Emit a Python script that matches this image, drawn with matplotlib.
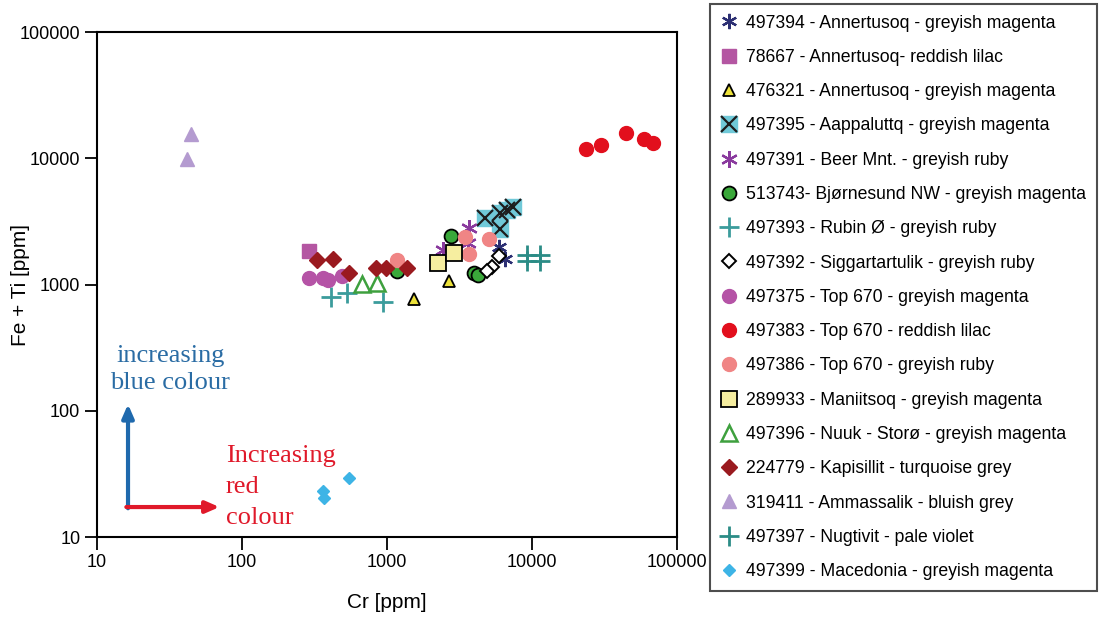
import matplotlib
matplotlib.use("Agg")
import matplotlib.pyplot as plt
from matplotlib.ticker import FixedLocator, FixedFormatter, NullLocator

plt.rcParams["font.family"] = ["Liberation Sans", "DejaVu Sans"]

# Cr [ppm] and Fe + Ti [ppm] per sample
cr_497394 = [5920, 6510]
feti_497394 = [1980, 1590]
cr_78667 = [290]
feti_78667 = [1840]
cr_476321 = [1535, 2680]
feti_476321 = [767, 1066]
cr_497395 = [4740, 6020, 6730, 7400, 6020]
feti_497395 = [3365, 3685, 3890, 4110, 2752]
cr_497391 = [2433, 3680, 3620]
feti_497391 = [1876, 2803, 2133]
cr_513743 = [1172, 2763, 3981, 4244]
feti_513743 = [1279, 2421, 1233, 1189]
cr_497393 = [411, 530, 938]
feti_497393 = [796, 857, 727]
cr_497392 = [5920, 5300, 4893]
feti_497392 = [1683, 1376, 1279]
cr_497375 = [290, 362, 392, 489]
feti_497375 = [1127, 1127, 1086, 1167]
cr_497383 = [23560, 29920, 44500, 59200, 68300]
feti_497383 = [11840, 12730, 15850, 14200, 13210]
cr_497386 = [1172, 3450, 5050, 3680]
feti_497386 = [1564, 2378, 2293, 1745]
cr_289933 = [2248, 2897]
feti_289933 = [1480, 1778]
cr_497396 = [673, 853]
feti_497396 = [1009, 1028]
cr_224779 = [329, 424, 547, 840, 984, 1374]
feti_224779 = [1564, 1592, 1233, 1352, 1352, 1352]
cr_319411 = [44.5, 41.8]
feti_319411 = [15560, 9860]
cr_497397 = [9240, 9240, 11350, 11350]
feti_497397 = [1713, 1535, 1713, 1535]
cr_497399 = [547, 362, 368]
feti_497399 = [29.3, 23.1, 20.4]

labels = [
    "497394 - Annertusoq - greyish magenta",
    "78667 - Annertusoq- reddish lilac",
    "476321 - Annertusoq - greyish magenta",
    "497395 - Aappaluttq - greyish magenta",
    "497391 - Beer Mnt. - greyish ruby",
    "513743- Bjørnesund NW - greyish magenta",
    "497393 - Rubin Ø - greyish ruby",
    "497392 - Siggartartulik - greyish ruby",
    "497375 - Top 670 - greyish magenta",
    "497383 - Top 670 - reddish lilac",
    "497386 - Top 670 - greyish ruby",
    "289933 - Maniitsoq - greyish magenta",
    "497396 - Nuuk - Storø - greyish magenta",
    "224779 - Kapisillit - turquoise grey",
    "319411 - Ammassalik - bluish grey",
    "497397 - Nugtivit - pale violet",
    "497399 - Macedonia - greyish magenta",
]

asterisk = (6, 2, 0)

fig = plt.figure(figsize=(11.04, 6.18), dpi=100)
ax = fig.add_axes([0.0879, 0.131, 0.5254, 0.8172])
ax.set_xscale("log")
ax.set_yscale("log")
ax.set_xlim(10, 100000)
ax.set_ylim(10, 100000)

h = []
h.append(ax.plot(cr_497394, feti_497394, ls="none", marker=asterisk, ms=11, mew=1.6, color="#2c2f73")[0])
h.append(ax.plot(cr_78667, feti_78667, ls="none", marker="s", ms=10, color="#b456a2")[0])
h.append(ax.plot(cr_476321, feti_476321, ls="none", marker="^", ms=9, mfc="#ede23a", mec="black", mew=1.3)[0])
sq = ax.plot(cr_497395, feti_497395, ls="none", marker="s", ms=12, color="#70c9d8")[0]
xx = ax.plot(cr_497395, feti_497395, ls="none", marker="x", ms=12, mew=1.6, color="#1d1d1d")[0]
h.append((sq, xx))
h.append(ax.plot(cr_497391, feti_497391, ls="none", marker=asterisk, ms=12, mew=1.6, color="#8a3a9e")[0])
h.append(ax.plot(cr_513743, feti_513743, ls="none", marker="o", ms=10, mfc="#3aa83a", mec="black", mew=1.3)[0])
h.append(ax.plot(cr_497393, feti_497393, ls="none", marker="+", ms=14, mew=2, color="#3b9c9c")[0])
h.append(ax.plot(cr_497392, feti_497392, ls="none", marker="D", ms=7, mfc="white", mec="black", mew=1.4)[0])
h.append(ax.plot(cr_497375, feti_497375, ls="none", marker="o", ms=10, color="#b553a6")[0])
h.append(ax.plot(cr_497383, feti_497383, ls="none", marker="o", ms=10, color="#e20f1d")[0])
h.append(ax.plot(cr_497386, feti_497386, ls="none", marker="o", ms=10, color="#f08585")[0])
h.append(ax.plot(cr_289933, feti_289933, ls="none", marker="s", ms=11, mfc="#f6eea0", mec="black", mew=1.3)[0])
h.append(ax.plot(cr_497396, feti_497396, ls="none", marker="^", ms=12, mfc="white", mec="#3ea03e", mew=1.8)[0])
h.append(ax.plot(cr_224779, feti_224779, ls="none", marker="D", ms=8, color="#9a1a1f")[0])
h.append(ax.plot(cr_319411, feti_319411, ls="none", marker="^", ms=10, color="#b49bd0")[0])
h.append(ax.plot(cr_497397, feti_497397, ls="none", marker="+", ms=14, mew=2, color="#2b8c86")[0])
h.append(ax.plot(cr_497399, feti_497399, ls="none", marker="D", ms=6.5, color="#3db4e6")[0])

ticks = [10, 100, 1000, 10000, 100000]
ticklabels = ["10", "100", "1000", "10000", "100000"]
for axis in (ax.xaxis, ax.yaxis):
    axis.set_major_locator(FixedLocator(ticks))
    axis.set_major_formatter(FixedFormatter(ticklabels))
    axis.set_minor_locator(NullLocator())
ax.tick_params(direction="out", length=9, width=1.3, labelsize=13, pad=3)
for s in ax.spines.values():
    s.set_linewidth(1.5)

ax.set_xlabel("Cr [ppm]", fontsize=15)
ax.set_ylabel("Fe + Ti [ppm]", fontsize=15)
ax.xaxis.set_label_coords(0.5, -0.11)
ax.yaxis.set_label_coords(-0.116, 0.5)

# colour arrows and notes
blue = "#1f69ad"
red = "#e0192a"
ax.annotate("", xy=(0.0534, 0.263), xytext=(0.0534, 0.057), xycoords="axes fraction",
            arrowprops=dict(arrowstyle="-|>,head_length=0.8,head_width=0.35", color=blue, lw=3, shrinkA=0, shrinkB=0))
ax.annotate("", xy=(0.211, 0.0594), xytext=(0.0505, 0.0594), xycoords="axes fraction",
            arrowprops=dict(arrowstyle="-|>,head_length=0.8,head_width=0.35", color=red, lw=3, shrinkA=0, shrinkB=0))
ax.text(0.126, 0.332, "increasing\nblue colour", transform=ax.transAxes, ha="center", va="center",
        color="#2a6ca4", fontsize=19, family="Liberation Serif", linespacing=1.3)
ax.text(0.222, 0.099, "Increasing\nred\ncolour", transform=ax.transAxes, ha="left", va="center",
        color=red, fontsize=19, family="Liberation Serif", linespacing=1.55)

leg = fig.legend(h, labels, loc="upper left", bbox_to_anchor=(710 / 1104, 1 - 4 / 618),
                 borderaxespad=0, fontsize=12.7, frameon=True, fancybox=False, edgecolor="#222222",
                 labelspacing=0.98, handlelength=1.0, handletextpad=0.45, borderpad=0.6)
leg.get_frame().set_linewidth(1.5)

fig.savefig("out.png", dpi=100)
